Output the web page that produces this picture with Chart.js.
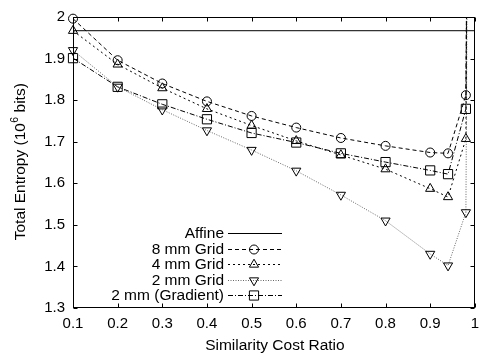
<!DOCTYPE html>
<html><head><meta charset="utf-8">
<script src="https://cdn.jsdelivr.net/npm/chart.js@4.4.0/dist/chart.umd.min.js"></script>
<style>html,body{margin:0;padding:0;background:#fff}#wrap{width:486px;height:358px}</style>
</head><body><div id="wrap"><canvas id="c" width="486" height="358"></canvas></div>
<script>
// ---- data ----
const xValues = [0.1, 0.2, 0.3, 0.4, 0.5, 0.6, 0.7, 0.8, 0.9, 0.94, 0.98, 0.99];
const affineX = [0.1, 1.0];
const affineY = [1.967, 1.967];
const grid8 = [1.996, 1.896, 1.840, 1.797, 1.762, 1.734, 1.709, 1.690, 1.674, 1.672, 1.812, 3.5];
const grid4 = [1.967, 1.886, 1.829, 1.779, 1.739, 1.702, 1.668, 1.634, 1.587, 1.567, 1.707, 3.5];
const grid2 = [1.920, 1.832, 1.777, 1.727, 1.680, 1.630, 1.572, 1.510, 1.430, 1.402, 1.530, 3.5];
const gradient = [1.901, 1.832, 1.790, 1.754, 1.721, 1.698, 1.672, 1.651, 1.631, 1.622, 1.779, 3.5];
const seriesNames = ['Affine', '8 mm Grid', '4 mm Grid', '2 mm Grid', '2 mm (Gradient)'];
const xTicks = [0.1, 0.2, 0.3, 0.4, 0.5, 0.6, 0.7, 0.8, 0.9, 1.0];
const xTickLabels = ['0.1', '0.2', '0.3', '0.4', '0.5', '0.6', '0.7', '0.8', '0.9', '1'];
const yTicks = [1.3, 1.4, 1.5, 1.6, 1.7, 1.8, 1.9, 2.0];
const yTickLabels = ['1.3', '1.4', '1.5', '1.6', '1.7', '1.8', '1.9', '2'];
const xTitle = 'Similarity Cost Ratio';
const yTitleParts = ['Total Entropy (10', '6', ' bits)'];

// ---- styles ----
const FONT = '"Liberation Sans", Arial, Helvetica, sans-serif';
const TXT = '15.5px ' + FONT;
const styles = [
  {color: '#000', dash: [], point: false, radius: 0, rot: 0},
  {color: '#000', dash: [4, 3], point: 'circle', radius: 4.5, rot: 0},
  {color: '#000', dash: [2, 3], point: 'triangle', radius: 5.3, rot: 0},
  {color: '#666', dash: [1, 1.5], point: 'triangle', radius: 5.3, rot: 180},
  {color: '#000', dash: [5, 2, 1, 2], point: 'rect', radius: 6.5, rot: 0}
];
const seriesData = [grid8, grid4, grid2, gradient];

function pts(xs, ys) { return xs.map((x, i) => ({x: x, y: ys[i]})); }

const datasets = [];
datasets.push({
  label: seriesNames[0], data: pts(affineX, affineY), borderColor: '#000', borderWidth: 1,
  pointRadius: 0, clip: 0, tension: 0
});
seriesData.forEach((ys, k) => {
  const st = styles[k + 1];
  const n = xValues.length;
  datasets.push({
    label: seriesNames[k + 1],
    data: pts(xValues.slice(0, n - 1), ys.slice(0, n - 1)),
    borderColor: st.color, borderWidth: 1, borderDash: st.dash,
    pointStyle: st.point, pointRadius: st.radius, pointRotation: st.rot,
    pointBorderColor: '#000', pointBackgroundColor: 'rgba(0,0,0,0)', pointBorderWidth: 1,
    clip: 8, tension: 0
  });
  datasets.push({
    label: '', data: pts(xValues.slice(n - 2), ys.slice(n - 2)),
    borderColor: st.color, borderWidth: 1, borderDash: st.dash,
    pointRadius: 0, clip: 0, tension: 0
  });
});

function drawMarker(ctx, style, x, y, r, rot) {
  ctx.beginPath();
  if (style === 'circle') {
    ctx.arc(x, y, r, 0, Math.PI * 2);
  } else if (style === 'triangle') {
    let a = rot * Math.PI / 180;
    ctx.moveTo(x + Math.sin(a) * r, y - Math.cos(a) * r);
    a += 2 * Math.PI / 3;
    ctx.lineTo(x + Math.sin(a) * r, y - Math.cos(a) * r);
    a += 2 * Math.PI / 3;
    ctx.lineTo(x + Math.sin(a) * r, y - Math.cos(a) * r);
    ctx.closePath();
  } else if (style === 'rect') {
    const s = r * Math.SQRT1_2;
    ctx.rect(x - s, y - s, 2 * s, 2 * s);
  }
  ctx.stroke();
}

const decor = {
  id: 'decor',
  afterDraw(chart) {
    const ctx = chart.ctx;
    const a = chart.chartArea;
    const xs = chart.scales.x, ys = chart.scales.y;
    ctx.save();
    ctx.strokeStyle = '#000';
    ctx.lineWidth = 1;
    ctx.setLineDash([]);
    const L = Math.round(a.left) + 0.5, R = Math.round(a.right) - 0.5;
    const T = Math.round(a.top) + 0.5, B = Math.round(a.bottom) - 0.5;
    ctx.strokeRect(L, T, R - L, B - T);
    const tl = 4;
    ctx.beginPath();
    xTicks.forEach(v => {
      const px = Math.round(xs.getPixelForValue(v)) + 0.5;
      ctx.moveTo(px, B); ctx.lineTo(px, B - tl);
      ctx.moveTo(px, T); ctx.lineTo(px, T + tl);
    });
    yTicks.forEach(v => {
      const py = Math.round(ys.getPixelForValue(v)) + 0.5;
      ctx.moveTo(L, py); ctx.lineTo(L + tl, py);
      ctx.moveTo(R, py); ctx.lineTo(R - tl, py);
    });
    ctx.stroke();

    // axis titles
    ctx.fillStyle = '#000';
    ctx.font = TXT;
    ctx.textAlign = 'center';
    ctx.textBaseline = 'alphabetic';
    ctx.fillText(xTitle, (a.left + a.right) / 2 + 1, 350);

    ctx.save();
    ctx.translate(25, 162);
    ctx.rotate(-Math.PI / 2);
    ctx.textAlign = 'left';
    const supFont = '10.5px ' + FONT;
    ctx.font = TXT;
    const w1 = ctx.measureText(yTitleParts[0]).width;
    const w3 = ctx.measureText(yTitleParts[2]).width;
    ctx.font = supFont;
    const w2 = ctx.measureText(yTitleParts[1]).width;
    const W = w1 + w2 + w3;
    let cx = -W / 2;
    ctx.font = TXT;
    ctx.fillText(yTitleParts[0], cx, 0); cx += w1;
    ctx.font = supFont;
    ctx.fillText(yTitleParts[1], cx + 0.5, -7); cx += w2 + 0.5;
    ctx.font = TXT;
    ctx.fillText(yTitleParts[2], cx, 0);
    ctx.restore();

    // legend
    const rowsY = [233, 248.5, 264, 279.5, 295];
    const textRight = 224, x0 = 228, x1 = 282, xm = 254;
    ctx.font = TXT;
    ctx.textAlign = 'right';
    ctx.textBaseline = 'middle';
    seriesNames.forEach((name, i) => {
      const y = rowsY[i];
      const st = styles[i];
      ctx.fillStyle = '#000';
      ctx.fillText(name, textRight, y + 1);
      ctx.strokeStyle = st.color;
      ctx.setLineDash(st.dash);
      ctx.beginPath();
      ctx.moveTo(x0, Math.round(y) + 0.5);
      ctx.lineTo(x1, Math.round(y) + 0.5);
      ctx.stroke();
      ctx.setLineDash([]);
      if (st.point) {
        ctx.strokeStyle = '#000';
        drawMarker(ctx, st.point, xm, Math.round(y) + 0.5, st.radius, st.rot);
      }
    });
    ctx.restore();
  }
};

new Chart(document.getElementById('c'), {
  type: 'line',
  data: {datasets: datasets},
  options: {
    responsive: false,
    animation: false,
    devicePixelRatio: 1,
    layout: {padding: {top: 15, right: 6, left: 0, bottom: 0}},
    plugins: {legend: {display: false}, tooltip: {enabled: false}, title: {display: false}},
    scales: {
      x: {
        type: 'linear', min: 0.1, max: 1,
        afterBuildTicks: s => { s.ticks = xTicks.map(v => ({value: v})); },
        afterFit: s => { s.height = 50; },
        grid: {display: false, drawTicks: false},
        border: {display: false},
        ticks: {
          autoSkip: false, maxRotation: 0, padding: 7, color: '#000',
          font: {family: FONT, size: 15},
          callback: (v, i) => xTickLabels[i]
        }
      },
      y: {
        type: 'linear', min: 1.3, max: 2,
        afterBuildTicks: s => { s.ticks = yTicks.map(v => ({value: v})); },
        afterFit: s => { s.width = 73; },
        grid: {display: false, drawTicks: false},
        border: {display: false},
        ticks: {
          autoSkip: false, padding: 8, color: '#000',
          font: {family: FONT, size: 15},
          callback: (v, i) => yTickLabels[i]
        }
      }
    }
  },
  plugins: [decor]
});
</script>
</body></html>
